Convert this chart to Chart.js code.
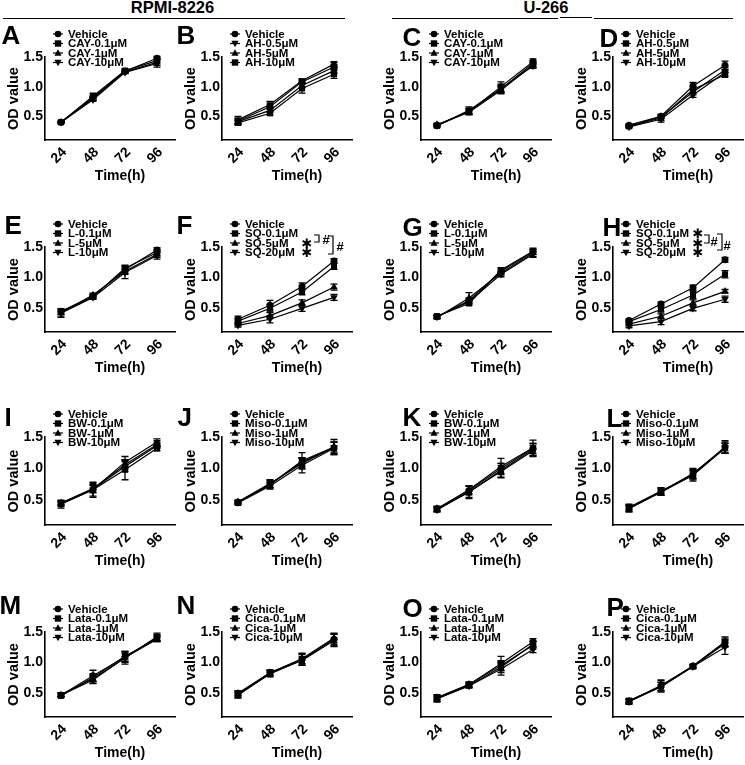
<!DOCTYPE html>
<html>
<head>
<meta charset="utf-8">
<script src="https://cdn.jsdelivr.net/npm/chart.js@4"></script>
<style>
  body { margin: 0; background: #fff; width: 745px; height: 765px; position: relative; overflow: hidden;
         font-family: "Liberation Sans", Arial, sans-serif; }
  .pc { position: absolute; }
  .lt { position: absolute; font-weight: bold; font-size: 26px; line-height: 26px; }
  .hd { position: absolute; font-weight: bold; font-size: 16.5px; line-height: 18px; text-align: center; }
  .ln { position: absolute; height: 0; border-top: 1.5px solid #000; }
</style>
</head>
<body>
<div class="hd" style="left:0;top:-2px;width:345px;">RPMI-8226</div>
<div class="ln" style="left:3px;top:18px;width:342px;"></div>
<div class="hd" style="left:446px;top:-2px;width:200px;">U-266</div>
<div class="ln" style="left:392px;top:18px;width:166px;"></div>
<div class="ln" style="left:560px;top:17px;width:32px;"></div>
<div class="ln" style="left:594px;top:18px;width:139px;"></div>

<script>
// ---- data ----
const times = [24, 48, 72, 96];
const yTicks = [0.5, 1.0, 1.5];

const namesA = ['Vehicle', 'CAY-0.1μM', 'CAY-1μM', 'CAY-10μM'];
const valsA = [[0.40, 0.82, 1.26, 1.48], [0.40, 0.84, 1.27, 1.44], [0.40, 0.80, 1.25, 1.41], [0.40, 0.78, 1.24, 1.39]];
const errA  = [[0.01, 0.03, 0.03, 0.03], [0.01, 0.05, 0.03, 0.04], [0.01, 0.03, 0.02, 0.05], [0.01, 0.03, 0.02, 0.06]];

const namesB = ['Vehicle', 'AH-0.5μM', 'AH-5μM', 'AH-10μM'];
const valsB = [[0.42, 0.66, 1.08, 1.33], [0.44, 0.70, 1.10, 1.38], [0.41, 0.60, 1.02, 1.27], [0.39, 0.55, 0.97, 1.21]];
const errB  = [[0.05, 0.04, 0.03, 0.04], [0.06, 0.05, 0.03, 0.04], [0.04, 0.03, 0.04, 0.05], [0.04, 0.03, 0.08, 0.07]];

const namesC = ['Vehicle', 'CAY-0.1μM', 'CAY-1μM', 'CAY-10μM'];
const valsC = [[0.35, 0.58, 1.00, 1.42], [0.34, 0.60, 0.96, 1.39], [0.36, 0.57, 0.94, 1.37], [0.34, 0.58, 0.97, 1.35]];
const errC  = [[0.02, 0.05, 0.08, 0.05], [0.03, 0.06, 0.06, 0.05], [0.02, 0.04, 0.06, 0.04], [0.02, 0.05, 0.07, 0.04]];

const namesD = ['Vehicle', 'AH-0.5μM', 'AH-5μM', 'AH-10μM'];
const valsD = [[0.35, 0.50, 1.01, 1.36], [0.33, 0.47, 0.95, 1.20], [0.34, 0.49, 0.91, 1.28], [0.32, 0.45, 0.86, 1.24]];
const errD  = [[0.02, 0.03, 0.06, 0.07], [0.02, 0.04, 0.05, 0.04], [0.02, 0.03, 0.05, 0.05], [0.02, 0.05, 0.04, 0.05]];

const namesE = ['Vehicle', 'L-0.1μM', 'L-5μM', 'L-10μM'];
const valsE = [[0.44, 0.69, 1.13, 1.45], [0.43, 0.68, 1.15, 1.41], [0.42, 0.71, 1.10, 1.38], [0.41, 0.67, 1.08, 1.36]];
const errE  = [[0.03, 0.03, 0.06, 0.04], [0.04, 0.04, 0.05, 0.05], [0.06, 0.03, 0.05, 0.05], [0.07, 0.03, 0.10, 0.06]];

const namesF = ['Vehicle', 'SQ-0.1μM', 'SQ-5μM', 'SQ-20μM'];
const valsF = [[0.31, 0.54, 0.85, 1.27], [0.28, 0.49, 0.76, 1.18], [0.24, 0.37, 0.58, 0.84], [0.21, 0.31, 0.49, 0.67]];
const errF  = [[0.05, 0.08, 0.06, 0.04], [0.05, 0.06, 0.05, 0.05], [0.04, 0.05, 0.05, 0.05], [0.03, 0.06, 0.05, 0.05]];

const namesG = ['Vehicle', 'L-0.1μM', 'L-5μM', 'L-10μM'];
const valsG = [[0.35, 0.62, 1.10, 1.42], [0.36, 0.57, 1.12, 1.43], [0.34, 0.66, 1.07, 1.40], [0.35, 0.60, 1.05, 1.38]];
const errG  = [[0.02, 0.04, 0.04, 0.04], [0.03, 0.03, 0.04, 0.05], [0.02, 0.09, 0.03, 0.06], [0.02, 0.04, 0.04, 0.05]];

const namesH = ['Vehicle', 'SQ-0.1μM', 'SQ-5μM', 'SQ-20μM'];
const valsH = [[0.29, 0.56, 0.83, 1.29], [0.27, 0.47, 0.71, 1.05], [0.23, 0.36, 0.58, 0.77], [0.20, 0.27, 0.49, 0.64]];
const errH  = [[0.02, 0.03, 0.04, 0.04], [0.02, 0.04, 0.06, 0.06], [0.03, 0.04, 0.05, 0.03], [0.03, 0.05, 0.04, 0.05]];

const namesI = ['Vehicle', 'BW-0.1μM', 'BW-1μM', 'BW-10μM'];
const valsI = [[0.45, 0.67, 1.03, 1.36], [0.43, 0.66, 0.98, 1.32], [0.45, 0.68, 1.06, 1.38], [0.44, 0.66, 1.10, 1.42]];
const errI  = [[0.04, 0.06, 0.08, 0.04], [0.06, 0.12, 0.16, 0.04], [0.03, 0.06, 0.08, 0.04], [0.04, 0.10, 0.09, 0.05]];

const namesJ = ['Vehicle', 'Miso-0.1μM', 'Miso-1μM', 'Miso-10μM'];
const valsJ = [[0.46, 0.75, 1.10, 1.33], [0.45, 0.72, 1.05, 1.32], [0.47, 0.76, 1.08, 1.34], [0.46, 0.74, 1.12, 1.34]];
const errJ  = [[0.03, 0.06, 0.07, 0.09], [0.03, 0.05, 0.12, 0.10], [0.02, 0.06, 0.08, 0.08], [0.03, 0.05, 0.13, 0.12]];

const namesK = ['Vehicle', 'BW-0.1μM', 'BW-1μM', 'BW-10μM'];
const valsK = [[0.36, 0.65, 1.00, 1.32], [0.35, 0.62, 0.97, 1.30], [0.36, 0.66, 1.03, 1.33], [0.34, 0.63, 0.95, 1.28]];
const errK  = [[0.04, 0.07, 0.08, 0.08], [0.04, 0.10, 0.11, 0.10], [0.03, 0.06, 0.13, 0.12], [0.03, 0.09, 0.10, 0.09]];

const namesL = ['Vehicle', 'Miso-0.1μM', 'Miso-1μM', 'Miso-10μM'];
const valsL = [[0.37, 0.63, 0.91, 1.34], [0.36, 0.62, 0.89, 1.33], [0.38, 0.64, 0.90, 1.32], [0.37, 0.63, 0.92, 1.33]];
const errL  = [[0.06, 0.06, 0.07, 0.10], [0.05, 0.05, 0.09, 0.09], [0.04, 0.05, 0.07, 0.08], [0.05, 0.06, 0.08, 0.07]];

const namesM = ['Vehicle', 'Lata-0.1μM', 'Lata-1μM', 'Lata-10μM'];
const valsM = [[0.46, 0.78, 1.09, 1.41], [0.45, 0.75, 1.10, 1.39], [0.46, 0.71, 1.08, 1.38], [0.47, 0.73, 1.07, 1.42]];
const errM  = [[0.03, 0.09, 0.09, 0.05], [0.03, 0.06, 0.08, 0.05], [0.02, 0.06, 0.07, 0.04], [0.03, 0.07, 0.10, 0.06]];

const namesN = ['Vehicle', 'Cica-0.1μM', 'Cica-1μM', 'Cica-10μM'];
const valsN = [[0.48, 0.83, 1.05, 1.38], [0.46, 0.82, 1.03, 1.36], [0.49, 0.83, 1.06, 1.40], [0.47, 0.81, 1.04, 1.37]];
const errN  = [[0.05, 0.04, 0.10, 0.09], [0.05, 0.05, 0.07, 0.10], [0.04, 0.04, 0.08, 0.08], [0.05, 0.05, 0.09, 0.10]];

const namesO = ['Vehicle', 'Lata-0.1μM', 'Lata-1μM', 'Lata-10μM'];
const valsO = [[0.41, 0.63, 0.98, 1.34], [0.40, 0.62, 0.92, 1.30], [0.42, 0.64, 0.95, 1.28], [0.40, 0.61, 0.89, 1.21]];
const errO  = [[0.06, 0.04, 0.12, 0.05], [0.05, 0.04, 0.09, 0.05], [0.04, 0.04, 0.08, 0.06], [0.04, 0.03, 0.10, 0.05]];

const namesP = ['Vehicle', 'Cica-0.1μM', 'Cica-1μM', 'Cica-10μM'];
const valsP = [[0.36, 0.61, 0.94, 1.33], [0.37, 0.60, 0.93, 1.31], [0.36, 0.62, 0.94, 1.34], [0.35, 0.60, 0.93, 1.25]];
const errP  = [[0.04, 0.10, 0.03, 0.07], [0.03, 0.07, 0.03, 0.06], [0.03, 0.08, 0.02, 0.08], [0.04, 0.07, 0.03, 0.12]];

// significance marks: legend rows that get a star
const starsF = [2, 3];
const starsH = [1, 2, 3];

// ---- layout ----
const axisX = [45, 222, 421, 613];
const rowTop = [57, 247, 437, 632];
const rowBot = [140, 332, 525, 717];
const plotW = 130, ySw = 45, xSh = 50, padTop = 45;
const FONT = '"Liberation Sans", Arial, sans-serif';

const letterPos = {
  A: [2, 25], B: [177, 25], C: [403, 27], D: [600, 28],
  E: [5, 215], F: [177, 215], G: [403, 217], H: [603, 217],
  I: [5, 407], J: [178, 407], K: [403, 407], L: [607, 408],
  M: [0, 595], N: [177, 595], O: [403, 598], P: [607, 597]
};

const panels = [
  ['A', namesA, valsA, errA], ['B', namesB, valsB, errB], ['C', namesC, valsC, errC], ['D', namesD, valsD, errD],
  ['E', namesE, valsE, errE], ['F', namesF, valsF, errF], ['G', namesG, valsG, errG], ['H', namesH, valsH, errH],
  ['I', namesI, valsI, errI], ['J', namesJ, valsJ, errJ], ['K', namesK, valsK, errK], ['L', namesL, valsL, errL],
  ['M', namesM, valsM, errM], ['N', namesN, valsN, errN], ['O', namesO, valsO, errO], ['P', namesP, valsP, errP]
];

function marker(ctx, style, x, y) {
  ctx.beginPath();
  if (style === 'circle') ctx.arc(x, y, 3.3, 0, Math.PI * 2);
  else if (style === 'rect') ctx.rect(x - 3.2, y - 3.2, 6.4, 6.4);
  else if (style === 'triangle') { ctx.moveTo(x, y - 3.8); ctx.lineTo(x + 3.6, y + 2.8); ctx.lineTo(x - 3.6, y + 2.8); ctx.closePath(); }
  else { ctx.moveTo(x, y + 3.8); ctx.lineTo(x + 3.6, y - 2.8); ctx.lineTo(x - 3.6, y - 2.8); ctx.closePath(); }
  ctx.fill();
}

function bracket(ctx, x, y1, y2, stub) {
  ctx.beginPath();
  ctx.moveTo(x - stub, y1); ctx.lineTo(x, y1); ctx.lineTo(x, y2); ctx.lineTo(x - stub, y2);
  ctx.stroke();
}

const errorBars = {
  id: 'errorBars',
  afterDatasetsDraw(chart) {
    const ctx = chart.ctx, xs = chart.scales.x, ys = chart.scales.y;
    ctx.save();
    ctx.strokeStyle = '#000';
    ctx.lineWidth = 1.3;
    chart.data.datasets.forEach(ds => {
      ds.data.forEach((p, i) => {
        const e = ds.err[i];
        const x = xs.getPixelForValue(p.x);
        const yt = ys.getPixelForValue(p.y + e), yb = ys.getPixelForValue(p.y - e);
        ctx.beginPath();
        ctx.moveTo(x, yt); ctx.lineTo(x, yb);
        ctx.moveTo(x - 3.5, yt); ctx.lineTo(x + 3.5, yt);
        ctx.moveTo(x - 3.5, yb); ctx.lineTo(x + 3.5, yb);
        ctx.stroke();
      });
    });
    ctx.restore();
  }
};

const decor = {
  id: 'decor',
  afterDraw(chart, args, opts) {
    const ctx = chart.ctx, ca = chart.chartArea, xs = chart.scales.x;
    const rows = [-23, -13.5, -4, 5.5].map(d => ca.top + d);
    const mx = ca.left + 13, tx = ca.left + 23;
    ctx.save();
    ctx.fillStyle = '#000';
    ctx.strokeStyle = '#000';
    // legend
    chart.data.datasets.forEach((ds, i) => {
      ctx.lineWidth = 1.2;
      ctx.beginPath(); ctx.moveTo(mx - 5, rows[i]); ctx.lineTo(mx + 5, rows[i]); ctx.stroke();
      marker(ctx, ds.mark, mx, rows[i]);
      ctx.font = 'bold 11.5px ' + FONT;
      ctx.textAlign = 'left';
      ctx.textBaseline = 'middle';
      ctx.fillText(ds.label, tx, rows[i] + 0.5);
    });
    // x axis title
    ctx.font = 'bold 14px ' + FONT;
    ctx.textAlign = 'center';
    ctx.textBaseline = 'middle';
    ctx.fillText('Time(h)', ca.left + 75, ca.bottom + 36);
    // rotated time labels at the x scale ticks
    ctx.textAlign = 'right';
    times.forEach(t => {
      ctx.save();
      ctx.translate(xs.getPixelForValue(t) + 3.5, ca.bottom + 10);
      ctx.rotate(-Math.PI / 4);
      ctx.fillText(String(t), 0, 0);
      ctx.restore();
    });
    // significance
    if (opts.stars) {
      ctx.textAlign = 'center';
      ctx.font = 'bold 13px "DejaVu Sans", sans-serif';
      opts.stars.forEach(r => ctx.fillText('✱', ca.left + opts.starX, rows[r] + 1.5));
      ctx.lineWidth = 1.2;
      ctx.font = 'bold 13px ' + FONT;
      opts.brackets.forEach(b => {
        bracket(ctx, ca.left + b[0], b[1], b[2], b[3]);
        ctx.fillText('#', ca.left + b[4], b[5]);
      });
    }
    ctx.restore();
  }
};

panels.forEach((p, k) => {
  const [id, names, vals, err] = p;
  const col = k % 4, row = Math.floor(k / 4);
  const ax = axisX[col], y15 = rowTop[row], yb = rowBot[row];
  const w = ySw + plotW + 5, h = padTop + (yb - y15) + xSh;

  const wrap = document.createElement('div');
  wrap.className = 'pc';
  wrap.style.left = (ax - ySw) + 'px';
  wrap.style.top = (y15 - padTop) + 'px';
  const cv = document.createElement('canvas');
  cv.width = w; cv.height = h;
  wrap.appendChild(cv);
  document.body.appendChild(wrap);

  const lt = document.createElement('div');
  lt.className = 'lt';
  lt.textContent = id;
  lt.style.left = (letterPos[id][0] - 0.5) + 'px';
  lt.style.top = (letterPos[id][1] - 3.4) + 'px';
  document.body.appendChild(lt);

  const marks = id === 'B' ? ['circle', 'down', 'triangle', 'rect'] : ['circle', 'rect', 'triangle', 'down'];

  let sig = {};
  if (id === 'F') {
    sig = { stars: starsF, starX: 85, brackets: [[97, 235, 242, 5, 104, 240], [111, 236, 254, 5, 118, 247]] };
  } else if (id === 'H') {
    sig = { stars: starsH, starX: 85, brackets: [[96, 235, 243, 5, 101, 242], [109, 234, 250, 5, 114, 246]] };
  }
  // bracket y values above are page rows; convert to canvas coords
  if (sig.brackets) sig.brackets = sig.brackets.map(b => [b[0], b[1] - (y15 - padTop), b[2] - (y15 - padTop), b[3], b[4], b[5] - (y15 - padTop)]);

  new Chart(cv, {
    type: 'line',
    data: {
      datasets: names.map((n, i) => ({
        label: n,
        mark: marks[i],
        data: times.map((t, j) => ({ x: t, y: vals[i][j] })),
        err: err[i],
        borderColor: '#000',
        backgroundColor: '#000',
        borderWidth: 1.2,
        pointStyle: marks[i] === 'down' ? 'triangle' : marks[i],
        pointRotation: marks[i] === 'down' ? 180 : 0,
        pointRadius: marks[i] === 'circle' ? 3.5 : 4.3,
        pointBorderWidth: 0,
        tension: 0,
        clip: false
      }))
    },
    options: {
      responsive: false,
      animation: false,
      events: [],
      layout: { padding: { top: padTop, left: 0, right: 5, bottom: 0 } },
      plugins: { legend: { display: false }, tooltip: { enabled: false }, decor: sig },
      scales: {
        x: {
          type: 'linear', min: 12, max: 109.5,
          afterBuildTicks: s => { s.ticks = times.map(v => ({ value: v })); },
          afterFit: s => { s.height = xSh; },
          grid: { drawOnChartArea: false, drawTicks: false },
          border: { display: true, color: '#000', width: 1.6 },
          ticks: { display: false }
        },
        y: {
          min: 0.1, max: 1.5,
          afterBuildTicks: s => { s.ticks = yTicks.map(v => ({ value: v })); },
          afterFit: s => { s.width = ySw; },
          grid: { drawOnChartArea: false, drawTicks: false },
          border: { display: true, color: '#000', width: 1.6 },
          ticks: {
            padding: 2, color: '#000', callback: v => v.toFixed(1),
            font: { family: FONT, weight: 'bold', size: 14 }
          },
          title: {
            display: true, text: 'OD value', color: '#000',
            font: { family: FONT, weight: 'bold', size: 14.5 }, padding: { top: 5, bottom: 0 }
          }
        }
      }
    },
    plugins: [errorBars, decor]
  });
});
</script>
</body>
</html>
